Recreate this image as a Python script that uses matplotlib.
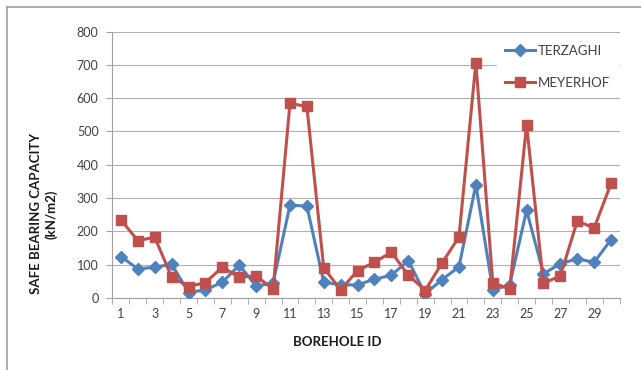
import matplotlib.pyplot as plt
from matplotlib.lines import Line2D

plt.rcParams['font.family'] = ['Lato', 'DejaVu Sans']

borehole = list(range(1, 31))
terzaghi = [124, 87, 92, 101, 16, 24, 47, 98, 36, 44,
            278, 276, 47, 39, 39, 56, 68, 112, 12, 55,
            93, 340, 24, 39, 263, 72, 103, 117, 107, 175]
meyerhof = [234, 172, 182, 62, 34, 46, 92, 62, 66, 26,
            584, 575, 90, 24, 82, 107, 137, 69, 22, 105,
            183, 706, 46, 26, 520, 44, 66, 231, 210, 344]
x_labels = [str(b) if b % 2 == 1 else '' for b in borehole]

fig = plt.figure(figsize=(6.41, 3.70), dpi=100)
ax = fig.add_axes([0.1755, 0.195, 0.791, 0.7197])

blue = '#4F81BD'
red = '#C0504D'
ax.plot(borehole, terzaghi, color=blue, lw=2.2, marker='D', ms=6,
        label='TERZAGHI', zorder=3)
ax.plot(borehole, meyerhof, color=red, lw=2.2, marker='s', ms=7.5,
        label='MEYERHOF', zorder=4)

ax.set_xlim(0.5, 30.5)
ax.set_ylim(0, 800)
ax.set_yticks(range(0, 801, 100))
ax.set_xticks(borehole)
ax.set_xticklabels(x_labels, fontsize=9, color='#404040')
ax.set_xticks([b + 0.5 for b in range(0, 31)], minor=True)
ax.tick_params(axis='x', which='major', length=0, pad=7)
ax.tick_params(axis='x', which='minor', length=4, color='#A0A0A0')
ax.tick_params(axis='y', length=4, color='#A0A0A0', labelsize=9,
               labelcolor='#404040', pad=6)
ax.yaxis.grid(True, color='#B0B0B0', lw=0.8)
ax.set_axisbelow(True)
for s in ['top', 'right']:
    ax.spines[s].set_visible(False)
for s in ['left', 'bottom']:
    ax.spines[s].set_color('#A0A0A0')

fig.text(337 / 641, 1 - 342 / 370, 'BOREHOLE ID', fontsize=9.5,
         fontweight='bold', ha='center', va='center', color='#1a1a1a')
fig.text(44 / 641, 1 - 214 / 370, 'SAFE BEARING CAPACITY\n(kN/m2)',
         fontsize=9.5, fontweight='bold', ha='center', va='center',
         rotation=90, multialignment='center', linespacing=1.25,
         color='#1a1a1a')

leg = ax.legend(loc='upper right', bbox_to_anchor=(1.01, 1.005), frameon=True,
                fontsize=9.5, handlelength=2.3, handletextpad=0.2,
                labelspacing=1.5, borderpad=0.6)
leg.get_frame().set_edgecolor('white')
leg.get_frame().set_facecolor('white')
leg.get_frame().set_alpha(1)
leg.get_frame().set_boxstyle('square', pad=0)
for t in leg.get_texts():
    t.set_color('#404040')

# chart border (top and left edges visible in the crop)
fig.add_artist(Line2D([7 / 641, 1], [1 - 6.5 / 370, 1 - 6.5 / 370],
                      transform=fig.transFigure, color='#A0A0A0', lw=1.2))
fig.add_artist(Line2D([7 / 641, 7 / 641], [0, 1 - 6.5 / 370],
                      transform=fig.transFigure, color='#A0A0A0', lw=1.2))

fig.savefig('out.png', dpi=100)
